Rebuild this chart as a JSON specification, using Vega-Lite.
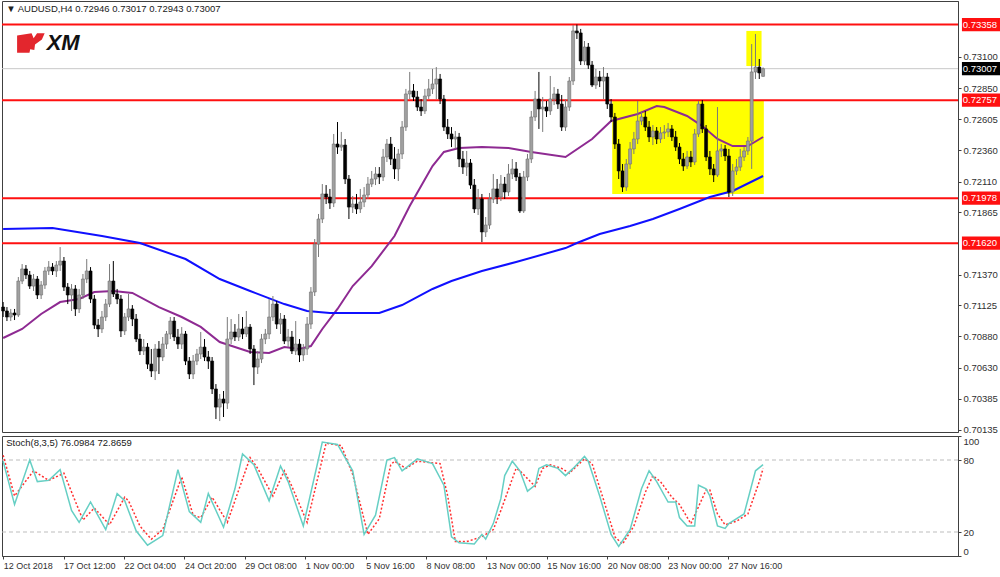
{
"$schema":"https://vega.github.io/schema/vega-lite/v6.json",
"padding":{"left":-2,"top":0,"right":0,"bottom":0},
"background":"white",
"spacing":4,
"bounds":"flush",
"config":{"view":{"stroke":"#404040","strokeWidth":1},"scale":{"continuousPadding":0},"axis":{"labelFont":"Liberation Sans","labelFontSize":9.5,"labelColor":"#303030","tickColor":"#404040","domainColor":"#404040","grid":false,"title":null,"labelOverlap":false}},
"datasets":{
"candles":[
{"i":0,"o":0.71112,"h":0.71152,"l":0.71033,"c":0.71081},
{"i":1,"o":0.71081,"h":0.71112,"l":0.71001,"c":0.71033},
{"i":2,"o":0.71033,"h":0.71097,"l":0.71001,"c":0.71065},
{"i":3,"o":0.71065,"h":0.71097,"l":0.71009,"c":0.71049},
{"i":4,"o":0.71049,"h":0.71351,"l":0.71033,"c":0.71319},
{"i":5,"o":0.71319,"h":0.71454,"l":0.71295,"c":0.71415},
{"i":6,"o":0.71415,"h":0.71446,"l":0.71335,"c":0.71367},
{"i":7,"o":0.71367,"h":0.71399,"l":0.71256,"c":0.71279},
{"i":8,"o":0.71279,"h":0.71375,"l":0.71240,"c":0.71335},
{"i":9,"o":0.71335,"h":0.71359,"l":0.71176,"c":0.71208},
{"i":10,"o":0.71208,"h":0.71319,"l":0.71176,"c":0.71287},
{"i":11,"o":0.71287,"h":0.71430,"l":0.71256,"c":0.71399},
{"i":12,"o":0.71399,"h":0.71478,"l":0.71367,"c":0.71430},
{"i":13,"o":0.71430,"h":0.71462,"l":0.71367,"c":0.71399},
{"i":14,"o":0.71399,"h":0.71478,"l":0.71351,"c":0.71446},
{"i":15,"o":0.71446,"h":0.71589,"l":0.71399,"c":0.71478},
{"i":16,"o":0.71478,"h":0.71510,"l":0.71240,"c":0.71271},
{"i":17,"o":0.71271,"h":0.71303,"l":0.71136,"c":0.71208},
{"i":18,"o":0.71208,"h":0.71295,"l":0.71081,"c":0.71256},
{"i":19,"o":0.71256,"h":0.71287,"l":0.71041,"c":0.71097},
{"i":20,"o":0.71097,"h":0.71256,"l":0.71065,"c":0.71208},
{"i":21,"o":0.71208,"h":0.71375,"l":0.71176,"c":0.71335},
{"i":22,"o":0.71335,"h":0.71494,"l":0.71303,"c":0.71399},
{"i":23,"o":0.71399,"h":0.71430,"l":0.71144,"c":0.71176},
{"i":24,"o":0.71176,"h":0.71208,"l":0.70938,"c":0.70969},
{"i":25,"o":0.70969,"h":0.71017,"l":0.70874,"c":0.70938},
{"i":26,"o":0.70938,"h":0.71081,"l":0.70906,"c":0.71033},
{"i":27,"o":0.71033,"h":0.71176,"l":0.71001,"c":0.71136},
{"i":28,"o":0.71136,"h":0.71454,"l":0.71112,"c":0.71319},
{"i":29,"o":0.71319,"h":0.71478,"l":0.71192,"c":0.71216},
{"i":30,"o":0.71216,"h":0.71256,"l":0.71136,"c":0.71176},
{"i":31,"o":0.71176,"h":0.71208,"l":0.70874,"c":0.70922},
{"i":32,"o":0.70922,"h":0.71065,"l":0.70890,"c":0.71033},
{"i":33,"o":0.71033,"h":0.71216,"l":0.71001,"c":0.71097},
{"i":34,"o":0.71097,"h":0.71128,"l":0.70961,"c":0.71017},
{"i":35,"o":0.71017,"h":0.71057,"l":0.70834,"c":0.70858},
{"i":36,"o":0.70858,"h":0.70898,"l":0.70731,"c":0.70763},
{"i":37,"o":0.70763,"h":0.70858,"l":0.70731,"c":0.70794},
{"i":38,"o":0.70794,"h":0.70826,"l":0.70620,"c":0.70659},
{"i":39,"o":0.70659,"h":0.70779,"l":0.70556,"c":0.70604},
{"i":40,"o":0.70604,"h":0.70818,"l":0.70532,"c":0.70779},
{"i":41,"o":0.70779,"h":0.70842,"l":0.70580,"c":0.70715},
{"i":42,"o":0.70715,"h":0.70874,"l":0.70683,"c":0.70818},
{"i":43,"o":0.70818,"h":0.70922,"l":0.70779,"c":0.70898},
{"i":44,"o":0.70898,"h":0.71033,"l":0.70858,"c":0.71001},
{"i":45,"o":0.71001,"h":0.71033,"l":0.70842,"c":0.70874},
{"i":46,"o":0.70874,"h":0.70938,"l":0.70779,"c":0.70818},
{"i":47,"o":0.70818,"h":0.70953,"l":0.70779,"c":0.70898},
{"i":48,"o":0.70898,"h":0.70922,"l":0.70651,"c":0.70683},
{"i":49,"o":0.70683,"h":0.70715,"l":0.70540,"c":0.70580},
{"i":50,"o":0.70580,"h":0.70731,"l":0.70540,"c":0.70683},
{"i":51,"o":0.70683,"h":0.70779,"l":0.70651,"c":0.70739},
{"i":52,"o":0.70739,"h":0.70914,"l":0.70699,"c":0.70794},
{"i":53,"o":0.70794,"h":0.70858,"l":0.70683,"c":0.70715},
{"i":54,"o":0.70715,"h":0.70763,"l":0.70620,"c":0.70683},
{"i":55,"o":0.70683,"h":0.70715,"l":0.70421,"c":0.70461},
{"i":56,"o":0.70461,"h":0.70500,"l":0.70222,"c":0.70317},
{"i":57,"o":0.70317,"h":0.70421,"l":0.70206,"c":0.70381},
{"i":58,"o":0.70381,"h":0.70445,"l":0.70238,"c":0.70349},
{"i":59,"o":0.70349,"h":0.71033,"l":0.70302,"c":0.70858},
{"i":60,"o":0.70858,"h":0.71017,"l":0.70818,"c":0.70914},
{"i":61,"o":0.70914,"h":0.70977,"l":0.70842,"c":0.70874},
{"i":62,"o":0.70874,"h":0.71057,"l":0.70842,"c":0.70938},
{"i":63,"o":0.70938,"h":0.71033,"l":0.70858,"c":0.70898},
{"i":64,"o":0.70898,"h":0.71081,"l":0.70874,"c":0.70953},
{"i":65,"o":0.70953,"h":0.70977,"l":0.70739,"c":0.70779},
{"i":66,"o":0.70779,"h":0.70810,"l":0.70492,"c":0.70635},
{"i":67,"o":0.70635,"h":0.70763,"l":0.70580,"c":0.70699},
{"i":68,"o":0.70699,"h":0.70898,"l":0.70667,"c":0.70858},
{"i":69,"o":0.70858,"h":0.70938,"l":0.70818,"c":0.70898},
{"i":70,"o":0.70898,"h":0.71176,"l":0.70858,"c":0.71033},
{"i":71,"o":0.71033,"h":0.71200,"l":0.71001,"c":0.71136},
{"i":72,"o":0.71136,"h":0.71160,"l":0.70938,"c":0.70977},
{"i":73,"o":0.70977,"h":0.71065,"l":0.70898,"c":0.71017},
{"i":74,"o":0.71017,"h":0.71049,"l":0.70818,"c":0.70842},
{"i":75,"o":0.70842,"h":0.70938,"l":0.70794,"c":0.70874},
{"i":76,"o":0.70874,"h":0.70922,"l":0.70739,"c":0.70763},
{"i":77,"o":0.70763,"h":0.71001,"l":0.70731,"c":0.70818},
{"i":78,"o":0.70818,"h":0.70858,"l":0.70675,"c":0.70731},
{"i":79,"o":0.70731,"h":0.70818,"l":0.70683,"c":0.70779},
{"i":80,"o":0.70779,"h":0.71033,"l":0.70731,"c":0.70977},
{"i":81,"o":0.70977,"h":0.71271,"l":0.70938,"c":0.71232},
{"i":82,"o":0.71232,"h":0.71653,"l":0.71200,"c":0.71613},
{"i":83,"o":0.71613,"h":0.71852,"l":0.71510,"c":0.71812},
{"i":84,"o":0.71812,"h":0.72090,"l":0.71780,"c":0.72011},
{"i":85,"o":0.72011,"h":0.72082,"l":0.71931,"c":0.71987},
{"i":86,"o":0.71987,"h":0.72051,"l":0.71892,"c":0.71939},
{"i":87,"o":0.71939,"h":0.72488,"l":0.71907,"c":0.72408},
{"i":88,"o":0.72408,"h":0.72583,"l":0.72329,"c":0.72384},
{"i":89,"o":0.72384,"h":0.72504,"l":0.72353,"c":0.72400},
{"i":90,"o":0.72400,"h":0.72448,"l":0.72090,"c":0.72130},
{"i":91,"o":0.72130,"h":0.72162,"l":0.71812,"c":0.71907},
{"i":92,"o":0.71907,"h":0.71995,"l":0.71860,"c":0.71931},
{"i":93,"o":0.71931,"h":0.72011,"l":0.71852,"c":0.71892},
{"i":94,"o":0.71892,"h":0.72051,"l":0.71860,"c":0.71947},
{"i":95,"o":0.71947,"h":0.72066,"l":0.71907,"c":0.72003},
{"i":96,"o":0.72003,"h":0.72146,"l":0.71971,"c":0.72090},
{"i":97,"o":0.72090,"h":0.72194,"l":0.72066,"c":0.72130},
{"i":98,"o":0.72130,"h":0.72225,"l":0.72082,"c":0.72170},
{"i":99,"o":0.72170,"h":0.72225,"l":0.72090,"c":0.72146},
{"i":100,"o":0.72146,"h":0.72369,"l":0.72114,"c":0.72305},
{"i":101,"o":0.72305,"h":0.72448,"l":0.72265,"c":0.72408},
{"i":102,"o":0.72408,"h":0.72464,"l":0.72241,"c":0.72289},
{"i":103,"o":0.72289,"h":0.72384,"l":0.72130,"c":0.72210},
{"i":104,"o":0.72210,"h":0.72369,"l":0.72114,"c":0.72329},
{"i":105,"o":0.72329,"h":0.72591,"l":0.72289,"c":0.72543},
{"i":106,"o":0.72543,"h":0.72846,"l":0.72512,"c":0.72806},
{"i":107,"o":0.72806,"h":0.72981,"l":0.72766,"c":0.72830},
{"i":108,"o":0.72830,"h":0.72885,"l":0.72750,"c":0.72782},
{"i":109,"o":0.72782,"h":0.72830,"l":0.72671,"c":0.72702},
{"i":110,"o":0.72702,"h":0.72766,"l":0.72631,"c":0.72671},
{"i":111,"o":0.72671,"h":0.72846,"l":0.72647,"c":0.72790},
{"i":112,"o":0.72790,"h":0.72925,"l":0.72766,"c":0.72846},
{"i":113,"o":0.72846,"h":0.73005,"l":0.72806,"c":0.72885},
{"i":114,"o":0.72885,"h":0.73020,"l":0.72766,"c":0.72925},
{"i":115,"o":0.72925,"h":0.72965,"l":0.72726,"c":0.72766},
{"i":116,"o":0.72766,"h":0.72798,"l":0.72512,"c":0.72543},
{"i":117,"o":0.72543,"h":0.72607,"l":0.72448,"c":0.72488},
{"i":118,"o":0.72488,"h":0.72543,"l":0.72384,"c":0.72448},
{"i":119,"o":0.72448,"h":0.72512,"l":0.72369,"c":0.72464},
{"i":120,"o":0.72464,"h":0.72496,"l":0.72225,"c":0.72289},
{"i":121,"o":0.72289,"h":0.72353,"l":0.72170,"c":0.72225},
{"i":122,"o":0.72225,"h":0.72353,"l":0.72154,"c":0.72257},
{"i":123,"o":0.72257,"h":0.72289,"l":0.72051,"c":0.72082},
{"i":124,"o":0.72082,"h":0.72130,"l":0.71860,"c":0.71892},
{"i":125,"o":0.71892,"h":0.72051,"l":0.71844,"c":0.71971},
{"i":126,"o":0.71971,"h":0.72011,"l":0.71629,"c":0.71709},
{"i":127,"o":0.71709,"h":0.71828,"l":0.71669,"c":0.71764},
{"i":128,"o":0.71764,"h":0.72019,"l":0.71733,"c":0.71971},
{"i":129,"o":0.71971,"h":0.72170,"l":0.71939,"c":0.72051},
{"i":130,"o":0.72051,"h":0.72130,"l":0.71931,"c":0.71987},
{"i":131,"o":0.71987,"h":0.72162,"l":0.71955,"c":0.72090},
{"i":132,"o":0.72090,"h":0.72146,"l":0.71971,"c":0.72027},
{"i":133,"o":0.72027,"h":0.72249,"l":0.71995,"c":0.72170},
{"i":134,"o":0.72170,"h":0.72289,"l":0.72130,"c":0.72210},
{"i":135,"o":0.72210,"h":0.72265,"l":0.72114,"c":0.72146},
{"i":136,"o":0.72146,"h":0.72178,"l":0.71860,"c":0.71876},
{"i":137,"o":0.71876,"h":0.72194,"l":0.71860,"c":0.72146},
{"i":138,"o":0.72146,"h":0.72329,"l":0.72114,"c":0.72289},
{"i":139,"o":0.72289,"h":0.72671,"l":0.72257,"c":0.72623},
{"i":140,"o":0.72623,"h":0.72830,"l":0.72591,"c":0.72766},
{"i":141,"o":0.72766,"h":0.72981,"l":0.72528,"c":0.72687},
{"i":142,"o":0.72687,"h":0.72782,"l":0.72504,"c":0.72702},
{"i":143,"o":0.72702,"h":0.72750,"l":0.72623,"c":0.72671},
{"i":144,"o":0.72671,"h":0.72949,"l":0.72639,"c":0.72766},
{"i":145,"o":0.72766,"h":0.72861,"l":0.72718,"c":0.72806},
{"i":146,"o":0.72806,"h":0.72846,"l":0.72687,"c":0.72726},
{"i":147,"o":0.72726,"h":0.72798,"l":0.72512,"c":0.72543},
{"i":148,"o":0.72543,"h":0.72766,"l":0.72512,"c":0.72702},
{"i":149,"o":0.72702,"h":0.72941,"l":0.72671,"c":0.72909},
{"i":150,"o":0.72909,"h":0.73354,"l":0.72877,"c":0.73307},
{"i":151,"o":0.73307,"h":0.73358,"l":0.73243,"c":0.73291},
{"i":152,"o":0.73291,"h":0.73323,"l":0.73036,"c":0.73068},
{"i":153,"o":0.73068,"h":0.73227,"l":0.73036,"c":0.73179},
{"i":154,"o":0.73179,"h":0.73211,"l":0.73005,"c":0.73036},
{"i":155,"o":0.73036,"h":0.73068,"l":0.72861,"c":0.72877},
{"i":156,"o":0.72877,"h":0.73005,"l":0.72846,"c":0.72941},
{"i":157,"o":0.72941,"h":0.72989,"l":0.72861,"c":0.72909},
{"i":158,"o":0.72909,"h":0.73020,"l":0.72766,"c":0.72941},
{"i":159,"o":0.72941,"h":0.72973,"l":0.72687,"c":0.72726},
{"i":160,"o":0.72726,"h":0.72766,"l":0.72583,"c":0.72623},
{"i":161,"o":0.72623,"h":0.72655,"l":0.72369,"c":0.72408},
{"i":162,"o":0.72408,"h":0.72448,"l":0.72130,"c":0.72194},
{"i":163,"o":0.72194,"h":0.72249,"l":0.72027,"c":0.72066},
{"i":164,"o":0.72066,"h":0.72289,"l":0.72035,"c":0.72249},
{"i":165,"o":0.72249,"h":0.72424,"l":0.72210,"c":0.72369},
{"i":166,"o":0.72369,"h":0.72504,"l":0.72329,"c":0.72448},
{"i":167,"o":0.72448,"h":0.72750,"l":0.72408,"c":0.72591},
{"i":168,"o":0.72591,"h":0.72671,"l":0.72559,"c":0.72623},
{"i":169,"o":0.72623,"h":0.72671,"l":0.72512,"c":0.72543},
{"i":170,"o":0.72543,"h":0.72591,"l":0.72424,"c":0.72464},
{"i":171,"o":0.72464,"h":0.72559,"l":0.72400,"c":0.72512},
{"i":172,"o":0.72512,"h":0.72543,"l":0.72408,"c":0.72448},
{"i":173,"o":0.72448,"h":0.72543,"l":0.72416,"c":0.72496},
{"i":174,"o":0.72496,"h":0.72559,"l":0.72448,"c":0.72504},
{"i":175,"o":0.72504,"h":0.72575,"l":0.72464,"c":0.72528},
{"i":176,"o":0.72528,"h":0.72559,"l":0.72432,"c":0.72464},
{"i":177,"o":0.72464,"h":0.72512,"l":0.72353,"c":0.72384},
{"i":178,"o":0.72384,"h":0.72416,"l":0.72249,"c":0.72289},
{"i":179,"o":0.72289,"h":0.72337,"l":0.72194,"c":0.72233},
{"i":180,"o":0.72233,"h":0.72353,"l":0.72210,"c":0.72305},
{"i":181,"o":0.72305,"h":0.72353,"l":0.72225,"c":0.72265},
{"i":182,"o":0.72265,"h":0.72528,"l":0.72241,"c":0.72488},
{"i":183,"o":0.72488,"h":0.72750,"l":0.72464,"c":0.72726},
{"i":184,"o":0.72726,"h":0.72758,"l":0.72496,"c":0.72528},
{"i":185,"o":0.72528,"h":0.72559,"l":0.72273,"c":0.72305},
{"i":186,"o":0.72305,"h":0.72353,"l":0.72162,"c":0.72210},
{"i":187,"o":0.72210,"h":0.72249,"l":0.72106,"c":0.72162},
{"i":188,"o":0.72162,"h":0.72702,"l":0.72146,"c":0.72353},
{"i":189,"o":0.72353,"h":0.72408,"l":0.72305,"c":0.72369},
{"i":190,"o":0.72369,"h":0.72400,"l":0.72273,"c":0.72313},
{"i":191,"o":0.72313,"h":0.72369,"l":0.71987,"c":0.72027},
{"i":192,"o":0.72027,"h":0.72249,"l":0.71995,"c":0.72194},
{"i":193,"o":0.72194,"h":0.72289,"l":0.72162,"c":0.72225},
{"i":194,"o":0.72225,"h":0.72369,"l":0.72194,"c":0.72305},
{"i":195,"o":0.72305,"h":0.72384,"l":0.72273,"c":0.72353},
{"i":196,"o":0.72353,"h":0.72464,"l":0.72321,"c":0.72432},
{"i":197,"o":0.72432,"h":0.73203,"l":0.72210,"c":0.72981},
{"i":198,"o":0.72981,"h":0.73283,"l":0.72925,"c":0.73020},
{"i":199,"o":0.73020,"h":0.73084,"l":0.72925,"c":0.72973},
{"i":200,"o":0.72946,"h":0.73017,"l":0.72943,"c":0.73007}
],
"ma":[
{"s":"p","i":0,"v":0.70866},{"s":"p","i":5,"v":0.70938},{"s":"p","i":10,"v":0.71057},{"s":"p","i":15,"v":0.71152},{"s":"p","i":20,"v":0.71176},{"s":"p","i":24,"v":0.71232},{"s":"p","i":29,"v":0.71240},{"s":"p","i":34,"v":0.71224},{"s":"p","i":41,"v":0.71112},{"s":"p","i":47,"v":0.71033},{"s":"p","i":52,"v":0.70954},{"s":"p","i":57,"v":0.70834},{"s":"p","i":65,"v":0.70755},{"s":"p","i":70,"v":0.70747},{"s":"p","i":74,"v":0.70795},{"s":"p","i":78,"v":0.70779},{"s":"p","i":81,"v":0.70802},{"s":"p","i":84,"v":0.70938},{"s":"p","i":88,"v":0.71097},{"s":"p","i":92,"v":0.71279},{"s":"p","i":97,"v":0.71438},{"s":"p","i":103,"v":0.71677},{"s":"p","i":107,"v":0.71915},{"s":"p","i":113,"v":0.72233},{"s":"p","i":116,"v":0.72345},{"s":"p","i":120,"v":0.72376},{"s":"p","i":126,"v":0.72384},{"s":"p","i":133,"v":0.72376},{"s":"p","i":139,"v":0.72345},{"s":"p","i":148,"v":0.72305},{"s":"p","i":155,"v":0.72448},{"s":"p","i":160,"v":0.72591},{"s":"p","i":167,"v":0.72647},{"s":"p","i":172,"v":0.72710},{"s":"p","i":174,"v":0.72702},{"s":"p","i":180,"v":0.72631},{"s":"p","i":184,"v":0.72551},{"s":"p","i":188,"v":0.72448},{"s":"p","i":192,"v":0.72392},{"s":"p","i":196,"v":0.72392},{"s":"p","i":200,"v":0.72464},
{"s":"b","i":0,"v":0.71733},{"s":"b","i":13,"v":0.71741},{"s":"b","i":26,"v":0.71677},{"s":"b","i":36,"v":0.71621},{"s":"b","i":48,"v":0.71494},{"s":"b","i":57,"v":0.71335},{"s":"b","i":65,"v":0.71240},{"s":"b","i":74,"v":0.71136},{"s":"b","i":80,"v":0.71081},{"s":"b","i":86,"v":0.71065},{"s":"b","i":99,"v":0.71065},{"s":"b","i":105,"v":0.71128},{"s":"b","i":113,"v":0.71256},{"s":"b","i":118,"v":0.71319},{"s":"b","i":126,"v":0.71399},{"s":"b","i":135,"v":0.71470},{"s":"b","i":148,"v":0.71581},{"s":"b","i":151,"v":0.71621},{"s":"b","i":157,"v":0.71693},{"s":"b","i":165,"v":0.71756},{"s":"b","i":171,"v":0.71812},{"s":"b","i":178,"v":0.71892},{"s":"b","i":186,"v":0.71987},{"s":"b","i":192,"v":0.72035},{"s":"b","i":200,"v":0.72154}
],
"levels":[{"p":0.73358},{"p":0.72757},{"p":0.71978},{"p":0.71620}],
"boxes":[{"x1":160.3,"x2":200.2,"y1":0.72011,"y2":0.72757},{"x1":195.6,"x2":199.6,"y1":0.73028,"y2":0.73307}],
"k":[
{"i":0,"v":79},{"i":3,"v":43},{"i":7,"v":80},{"i":9,"v":62},{"i":12,"v":63},{"i":15,"v":72},{"i":18,"v":38},{"i":20,"v":28},{"i":23,"v":45},{"i":27,"v":22},{"i":30,"v":52},{"i":32,"v":46},{"i":35,"v":21},{"i":38,"v":9},{"i":42,"v":17},{"i":46,"v":72},{"i":49,"v":37},{"i":52,"v":28},{"i":54,"v":52},{"i":58,"v":24},{"i":61,"v":56},{"i":63,"v":85},{"i":66,"v":76},{"i":70,"v":46},{"i":73,"v":75},{"i":75,"v":62},{"i":79,"v":25},{"i":84,"v":95},{"i":88,"v":93},{"i":92,"v":71},{"i":95,"v":18},{"i":98,"v":34},{"i":101,"v":80},{"i":103,"v":82},{"i":105,"v":71},{"i":109,"v":81},{"i":113,"v":77},{"i":116,"v":59},{"i":118,"v":16},{"i":120,"v":11},{"i":124,"v":10},{"i":126,"v":18},{"i":127,"v":14},{"i":129,"v":27},{"i":131,"v":48},{"i":132,"v":67},{"i":134,"v":79},{"i":136,"v":71},{"i":138,"v":54},{"i":140,"v":59},{"i":141,"v":73},{"i":143,"v":76},{"i":146,"v":73},{"i":148,"v":67},{"i":150,"v":73},{"i":153,"v":83},{"i":154,"v":79},{"i":157,"v":50},{"i":160,"v":18},{"i":162,"v":8},{"i":165,"v":22},{"i":168,"v":56},{"i":170,"v":71},{"i":172,"v":62},{"i":175,"v":45},{"i":177,"v":45},{"i":178,"v":32},{"i":180,"v":25},{"i":182,"v":25},{"i":183,"v":59},{"i":185,"v":56},{"i":186,"v":50},{"i":188,"v":25},{"i":190,"v":23},{"i":191,"v":27},{"i":192,"v":29},{"i":195,"v":35},{"i":198,"v":71},{"i":200,"v":76.0984}
],
"d":[
{"i":0,"v":84},{"i":3,"v":50},{"i":8,"v":71},{"i":12,"v":63},{"i":16,"v":69},{"i":21,"v":30},{"i":24,"v":40},{"i":28,"v":26},{"i":32,"v":49},{"i":33,"v":46},{"i":36,"v":25},{"i":39,"v":14},{"i":42,"v":22},{"i":47,"v":66},{"i":50,"v":34},{"i":52,"v":32},{"i":55,"v":49},{"i":59,"v":28},{"i":65,"v":82},{"i":67,"v":73},{"i":71,"v":50},{"i":74,"v":71},{"i":76,"v":58},{"i":80,"v":28},{"i":85,"v":94},{"i":89,"v":92},{"i":92,"v":68},{"i":96,"v":18},{"i":99,"v":31},{"i":102,"v":76},{"i":103,"v":79},{"i":106,"v":73},{"i":109,"v":79},{"i":115,"v":77},{"i":117,"v":50},{"i":119,"v":12},{"i":122,"v":12},{"i":126,"v":16},{"i":129,"v":22},{"i":131,"v":38},{"i":135,"v":73},{"i":136,"v":71},{"i":140,"v":58},{"i":142,"v":73},{"i":144,"v":76},{"i":147,"v":73},{"i":149,"v":69},{"i":153,"v":81},{"i":155,"v":77},{"i":158,"v":47},{"i":161,"v":16},{"i":163,"v":10},{"i":166,"v":25},{"i":169,"v":53},{"i":171,"v":67},{"i":173,"v":62},{"i":176,"v":49},{"i":178,"v":43},{"i":181,"v":27},{"i":185,"v":55},{"i":186,"v":55},{"i":188,"v":35},{"i":190,"v":26},{"i":193,"v":29},{"i":196,"v":35},{"i":199,"v":62},{"i":200,"v":72.8659}
]
},
"vconcat":[
{
"width":956,"height":431,
"layer":[
{"data":{"name":"boxes"},"mark":{"type":"rect","color":"#ffff00"},
 "encoding":{"x":{"field":"x1","type":"quantitative","scale":{"domain":[-0.3,251.3],"nice":false,"zero":false,"padding":0},"axis":null},"x2":{"field":"x2"},
 "y":{"field":"y1","type":"quantitative","scale":{"domain":[0.70119,0.73545],"nice":false,"zero":false,"padding":0},"axis":{"orient":"right","values":[0.731,0.7285,0.72605,0.7236,0.7211,0.71865,0.7137,0.71125,0.7088,0.7063,0.70385,0.70135],"tickCount":40,"format":".5f","title":null,"tickSize":3,"labelPadding":2,"labelOverlap":false}},"y2":{"field":"y2"}}},
{"data":{"values":[{}]},"mark":{"type":"rule","color":"#c8c8c8","strokeWidth":1},"encoding":{"y":{"datum":0.73007,"type":"quantitative"}}},
{"data":{"name":"levels"},"mark":{"type":"rule","color":"#ff1010","strokeWidth":2},"encoding":{"y":{"field":"p","type":"quantitative"}}},
{"data":{"name":"ma"},"mark":{"type":"line","strokeWidth":2},
 "encoding":{"x":{"field":"i","type":"quantitative"},"y":{"field":"v","type":"quantitative"},"detail":{"field":"s"},"color":{"field":"s","type":"nominal","scale":{"domain":["p","b"],"range":["#8e2a92","#1010ff"]},"legend":null}}},
{"data":{"name":"candles"},"mark":{"type":"rule","strokeWidth":1},
 "encoding":{"x":{"field":"i","type":"quantitative"},"y":{"field":"l","type":"quantitative"},"y2":{"field":"h"},
 "color":{"condition":{"test":"datum.c >= datum.o","value":"#7a7a7a"},"value":"#000000"}}},
{"data":{"name":"candles"},"mark":{"type":"bar","size":3,"strokeWidth":0.6},
 "encoding":{"x":{"field":"i","type":"quantitative"},"y":{"field":"o","type":"quantitative"},"y2":{"field":"c"},
 "fill":{"condition":{"test":"datum.c >= datum.o","value":"#a0a0a0"},"value":"#000000"},
 "stroke":{"condition":{"test":"datum.c >= datum.o","value":"#707070"},"value":"#000000"}}},
{"data":{"values":[{}]},"mark":{"type":"text","text":"▼ AUDUSD,H4  0.72946 0.73017 0.72943 0.73007","align":"left","baseline":"middle","font":"Liberation Sans","fontSize":9.5,"color":"#202020"},
 "encoding":{"x":{"datum":0.8,"type":"quantitative"},"y":{"datum":0.73481,"type":"quantitative"}}},
{"data":{"values":[{}]},"mark":{"type":"point","shape":"M-1,-0.55 L0.05,-0.7 L0.2,-0.35 L0.45,-0.7 L1,-0.7 L0.8,-0.25 L0.3,0.1 L0.25,0.5 L-0.05,0.45 L-0.1,0.7 L-1,0.7 Z","size":760,"filled":true,"color":"#e3262d","opacity":1},
 "encoding":{"x":{"datum":7.3,"type":"quantitative"},"y":{"datum":0.73211,"type":"quantitative"}}},
{"data":{"values":[{}]},"mark":{"type":"text","text":"XM","align":"center","baseline":"middle","font":"Liberation Sans","fontSize":22,"fontWeight":"bold","fontStyle":"italic","color":"#111111"},
 "encoding":{"x":{"datum":15.8,"type":"quantitative"},"y":{"datum":0.73215,"type":"quantitative"}}},
{"data":{"name":"levels"},"mark":{"type":"point","shape":"M-1,-0.33 L1,-0.33 L1,0.33 L-1,0.33 Z","size":1600,"filled":true,"color":"#ff1010","opacity":1},
 "encoding":{"x":{"datum":257.6,"type":"quantitative"},"y":{"field":"p","type":"quantitative"}}},
{"data":{"name":"levels"},"mark":{"type":"text","align":"left","baseline":"middle","font":"Liberation Sans","fontSize":9.5,"color":"#ffffff","dx":1},
 "encoding":{"x":{"datum":252.3,"type":"quantitative"},"y":{"field":"p","type":"quantitative"},"text":{"field":"p","format":".5f"}}},
{"data":{"values":[{}]},"mark":{"type":"point","shape":"M-1,-0.33 L1,-0.33 L1,0.33 L-1,0.33 Z","size":1600,"filled":true,"color":"#000000","opacity":1},
 "encoding":{"x":{"datum":257.6,"type":"quantitative"},"y":{"datum":0.73007,"type":"quantitative"}}},
{"data":{"values":[{}]},"mark":{"type":"text","text":"0.73007","align":"left","baseline":"middle","font":"Liberation Sans","fontSize":9.5,"color":"#ffffff","dx":1},
 "encoding":{"x":{"datum":252.3,"type":"quantitative"},"y":{"datum":0.73007,"type":"quantitative"}}}
]
},
{
"width":956,"height":120,
"layer":[
{"data":{"values":[{"v":80},{"v":20}]},"mark":{"type":"rule","color":"#bdbdbd","strokeDash":[4,3],"strokeWidth":1},
 "encoding":{"y":{"field":"v","type":"quantitative","scale":{"domain":[0,100],"nice":false,"zero":false,"padding":0},"axis":{"orient":"right","values":[0,20,80,100],"tickCount":20,"format":"d","title":null,"tickSize":3,"labelPadding":2,"labelFlush":true,"labelOverlap":false}}}},
{"data":{"name":"d"},"mark":{"type":"line","color":"#ff3030","strokeWidth":1.5,"strokeDash":[2,2]},
 "encoding":{"x":{"field":"i","type":"quantitative","scale":{"domain":[-0.3,251.3],"nice":false,"zero":false,"padding":0},
 "axis":{"orient":"bottom","values":[0,15.9,31.8,47.7,63.6,79.5,95.4,111.3,127.2,143.1,159,174.9,190.8],"tickCount":40,"labelExpr":"['12 Oct 2018','17 Oct 12:00','22 Oct 04:00','24 Oct 20:00','29 Oct 08:00','1 Nov 00:00','5 Nov 16:00','8 Nov 08:00','13 Nov 00:00','15 Nov 16:00','20 Nov 08:00','23 Nov 00:00','27 Nov 16:00'][round(datum.value/15.9)]","labelAlign":"left","labelPadding":2,"labelFontSize":9,"tickSize":3,"labelOverlap":false,"labelFlush":false,"title":null}},
 "y":{"field":"v","type":"quantitative"}}},
{"data":{"name":"k"},"mark":{"type":"line","color":"#66cfc4","strokeWidth":1.5},
 "encoding":{"x":{"field":"i","type":"quantitative"},"y":{"field":"v","type":"quantitative"}}},
{"data":{"values":[{}]},"mark":{"type":"text","text":"Stoch(8,3,5) 76.0984 72.8659","align":"left","baseline":"middle","font":"Liberation Sans","fontSize":9.5,"color":"#202020"},
 "encoding":{"x":{"datum":0.8,"type":"quantitative"},"y":{"datum":94.5,"type":"quantitative"}}}
]
}
]
}
